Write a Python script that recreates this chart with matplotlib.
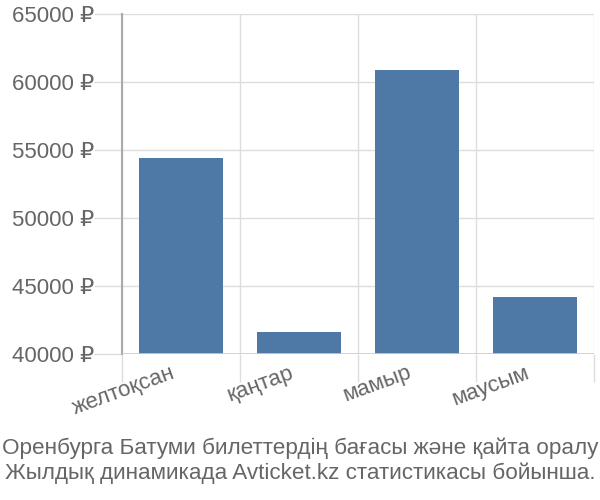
import matplotlib
matplotlib.use('Agg')
import matplotlib.pyplot as plt
import matplotlib.transforms as mtransforms
from matplotlib.ticker import FuncFormatter, FixedLocator

months = ['желтоқсан', 'қаңтар', 'мамыр', 'маусым']
prices = [54400, 41600, 60900, 44200]
y_ticks = [40000, 45000, 50000, 55000, 60000, 65000]
caption = ('Оренбурга Батуми билеттердің бағасы және қайта оралу\n'
           'Жылдық динамикада Avticket.kz статистикасы бойынша.')

plt.rcParams['font.family'] = ['Liberation Sans', 'DejaVu Sans']
text_color = '#666666'
grid_color = '#dddddd'

fig = plt.figure(figsize=(6, 5), dpi=100)
ax = fig.add_axes([122 / 600, 1 - 354 / 500, 472 / 600, 340 / 500])

x = list(range(len(months)))
ax.bar(x, [p - y_ticks[0] for p in prices], bottom=y_ticks[0], width=0.72,
       color='#4e79a7', zorder=2)

ax.set_xlim(-0.5, len(months) - 0.5)
ax.set_ylim(y_ticks[0], y_ticks[-1])

# gridlines at category boundaries, labels at centres
ax.xaxis.set_major_locator(FixedLocator([i - 0.5 for i in range(len(months) + 1)]))
ax.set_xticklabels([])
ax.set_xticks(x, minor=True)
ax.set_xticklabels(months, minor=True, rotation=20, ha='right',
                   rotation_mode='anchor', fontsize=16, color=text_color)
ax.tick_params(axis='x', which='minor', length=0, pad=6)
ax.tick_params(axis='x', which='major', length=20, color=grid_color, width=1)
shift = mtransforms.ScaledTranslation(-10 / 100, 0, fig.dpi_scale_trans)
for lbl in ax.get_xticklabels(minor=True):
    lbl.set_transform(lbl.get_transform() + shift)

ax.set_yticks(y_ticks)
ax.yaxis.set_major_formatter(FuncFormatter(lambda v, _: f'{int(v)} ₽'))
ax.tick_params(axis='y', length=20, color=grid_color, width=1, pad=0,
               labelsize=16, labelcolor=text_color)

ax.grid(True, which='major', color=grid_color, linewidth=1, zorder=0)
for side in ['top', 'right', 'bottom']:
    ax.spines[side].set_visible(False)
ax.spines['left'].set_color('#aaaaaa')
ax.spines['left'].set_linewidth(1.5)
ax.axhline(y_ticks[0], color='#cccccc', linewidth=1.2, zorder=3)

fig.text(0.5, 1 - 461 / 500, caption, ha='center', va='center',
         fontsize=16.2, color=text_color, linespacing=1.2)

fig.savefig('out.png', dpi=100)
